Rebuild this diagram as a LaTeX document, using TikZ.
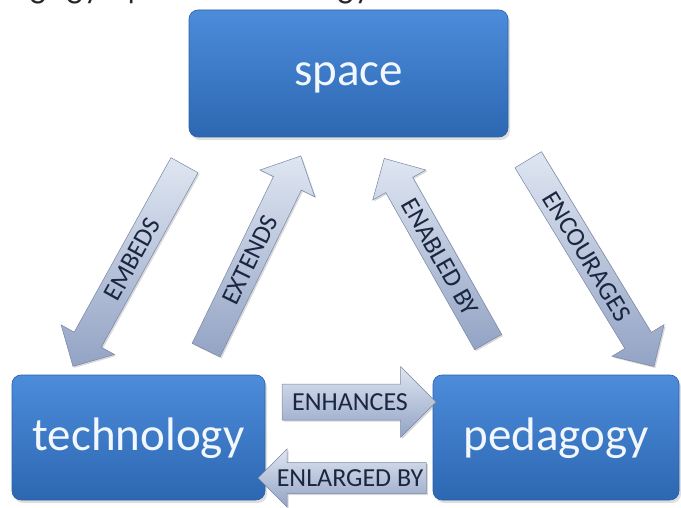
\documentclass[tikz,border=0pt]{standalone}
\usepackage{fontspec}
\setmainfont{Carlito}
\newfontfamily\captionfont{Poppins}
\usetikzlibrary{shapes.arrows,shadows}
\definecolor{boxtop}{HTML}{4C8CDA}
\definecolor{boxbot}{HTML}{2D67B2}
\definecolor{boxline}{HTML}{2A5FA6}
\definecolor{boxtext}{HTML}{F2F7FD}
\definecolor{flowtop}{HTML}{DFE6F2}
\definecolor{flowbot}{HTML}{93A3C4}
\definecolor{flowline}{HTML}{7886A4}
\definecolor{flowtext}{HTML}{1B2740}
\tikzset{
  pstbox/.style={rounded corners=9pt, top color=boxtop, bottom color=boxbot,
    draw=boxline, line width=0.6pt, text=boxtext, inner sep=0pt,
    drop shadow={shadow xshift=2pt, shadow yshift=-3pt, opacity=0.25},
    font=\fontsize{47}{50}\selectfont, text height=25pt, text depth=0pt},
  flow/.style={single arrow, single arrow head extend=15pt,
    top color=flowtop, bottom color=flowbot, draw=flowline, line width=0.5pt,
    drop shadow={shadow xshift=1.5pt, shadow yshift=-1.5pt, opacity=0.3},
    text=flowtext, font=\fontsize{26}{27}\selectfont,
    text height=16.5pt, text depth=0pt, inner xsep=3pt, inner ysep=7pt}
}
\begin{document}
\begin{tikzpicture}[x=1pt,y=1pt]
  \useasboundingbox (0,0) rectangle (681,507);
  \clip (0,0) rectangle (681,507);

  %% caption, cut off by the top edge
  \node[anchor=base east, inner sep=0pt, text=black!85,
    font=\captionfont\fontsize{28}{30}\selectfont] (caption) at (529,510)
    {pedagogy, space, technology framework};

  %% the three boxes
  \node[pstbox, minimum width=319pt, minimum height=127pt] (space) at (348.5,433.5) {space};
  \node[pstbox, minimum width=253pt, minimum height=125pt] (tech) at (138.5,69.5) {technology};
  \node[pstbox, minimum width=246pt, minimum height=125pt] (ped) at (556,69.5) {pedagogy};

  %% space <-> technology
  \node[flow, minimum height=230pt, rotate=61, shape border rotate=180] (embeds) at (132.5,248) {EMBEDS};
  \node[flow, minimum height=216pt, rotate=64] (extends) at (250,247) {EXTENDS};

  %% space <-> pedagogy
  \node[flow, minimum height=211pt, rotate=-60.5, shape border rotate=180] (enabled) at (440,250) {ENABLED BY};
  \node[flow, minimum height=242pt, rotate=-58.7] (encourages) at (587,250.5) {ENCOURAGES};

  %% technology <-> pedagogy
  \node[flow, minimum height=154pt, inner ysep=9.5pt, single arrow head extend=17.5pt] (enhances) at (350,105) {ENHANCES};
  \node[flow, minimum height=150pt, single arrow head extend=13.5pt, shape border rotate=180] (enlarged) at (350,29) {ENLARGED BY};
\end{tikzpicture}
\end{document}
